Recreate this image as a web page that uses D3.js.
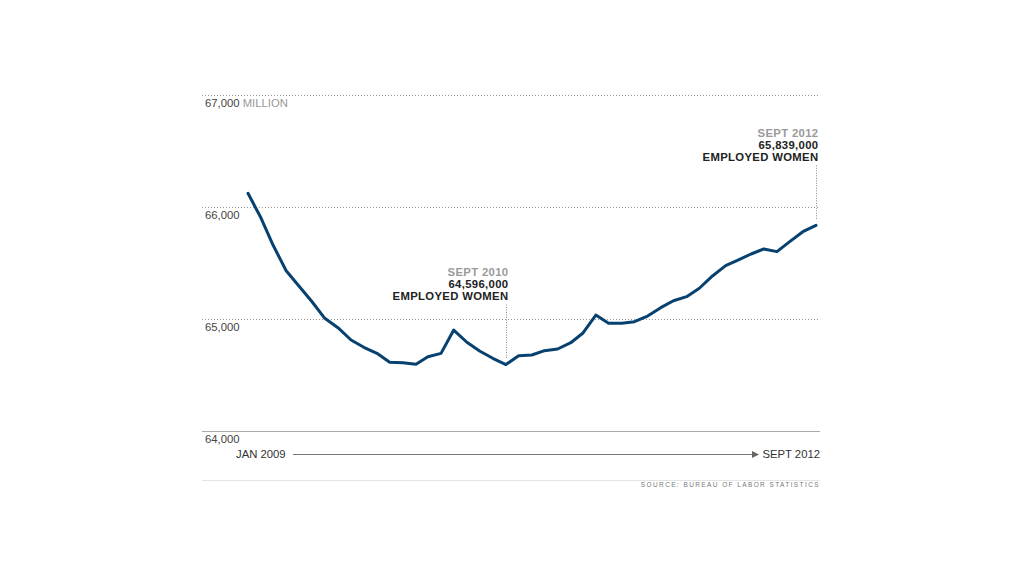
<!DOCTYPE html>
<html><head><meta charset="utf-8">
<script src="https://cdn.jsdelivr.net/npm/d3@7"></script>
<style>
html,body{margin:0;padding:0;background:#fff;}
text{font-family:Arial,"Liberation Sans",Helvetica,sans-serif;}
</style></head>
<body>
<svg id="chart" width="1024" height="576"></svg>
<script>
// Monthly employed women (thousands), Jan 2009 - Sept 2012
const months = d3.range(45).map(i => new Date(2009, i, 1));
const employed = [
  66125, 65902, 65663, 65434, 65297, 65157, 65009, 64925, 64815, 64750,
  64696, 64616, 64612, 64598, 64666, 64696, 64904, 64795, 64717, 64652,
  64596, 64675, 64681, 64720, 64735, 64791, 64875, 65038, 64964, 64964,
  64979, 65029, 65104, 65166, 65202, 65277, 65387, 65479, 65529, 65583,
  65628, 65604, 65693, 65782, 65839
];
const yTicks = [64000, 65000, 66000, 67000];
const yTickLabels = ["64,000", "65,000", "66,000", "67,000"];
const annotations = [
  {index: 20, date: "SEPT 2010", value: "64,596,000", label: "EMPLOYED WOMEN"},
  {index: 44, date: "SEPT 2012", value: "65,839,000", label: "EMPLOYED WOMEN"}
];
const startLabel = "JAN 2009", endLabel = "SEPT 2012";
const sourceText = "SOURCE: BUREAU OF LABOR STATISTICS";

const svg = d3.select("#chart");
const left = 202, right = 820;
const x = d3.scaleTime().domain([months[0], months[44]]).range([248, 816]);
const y = d3.scaleLinear().domain([64000, 67000]).range([431.3, 95.3]);

// gridlines
const grid = svg.append("g");
yTicks.forEach((t, i) => {
  const yy = Math.round(y(t)) + 0.5;
  if (t !== 64000) {
    grid.append("line").attr("x1", left).attr("x2", right).attr("y1", yy).attr("y2", yy)
      .attr("stroke", "#9a9a9a").attr("stroke-width", 1).attr("stroke-dasharray", "1,2");
  } else {
    grid.append("line").attr("x1", left).attr("x2", right).attr("y1", yy).attr("y2", yy)
      .attr("stroke", "#aaa").attr("stroke-width", 1);
  }
  const tx = grid.append("text").attr("x", 205).attr("y", y(t) + 11.3)
    .attr("font-size", 11.3).attr("fill", "#444");
  tx.append("tspan").text(yTickLabels[i]);
  if (t === 67000) tx.append("tspan").attr("fill", "#999").text(" MILLION");
});

// annotation leaders
annotations.forEach(a => {
  const px = Math.round(x(months[a.index])) + 0.5;
  const py = y(employed[a.index]);
  svg.append("line").attr("x1", px).attr("x2", px).attr("y1", py - 60).attr("y2", py - 5)
    .attr("stroke", "#888").attr("stroke-width", 1).attr("stroke-dasharray", "1,1.5");
  const tx = px + 2;
  const top = py - 88.5;
  const g = svg.append("g").attr("font-size", 11.3).attr("font-weight", "bold")
    .attr("letter-spacing", "0.35").attr("text-anchor", "end");
  g.append("text").attr("x", tx).attr("y", top).attr("fill", "#9a9a9a").text(a.date);
  g.append("text").attr("x", tx).attr("y", top + 12.2).attr("fill", "#222").text(a.value);
  g.append("text").attr("x", tx).attr("y", top + 24.4).attr("fill", "#222").text(a.label);
});

// line
const line = d3.line().x((d, i) => x(months[i])).y(d => y(d));
svg.append("path").datum(employed).attr("d", line)
  .attr("fill", "none").attr("stroke", "#07416f").attr("stroke-width", 3)
  .attr("stroke-linejoin", "round").attr("stroke-linecap", "round");

// bottom time arrow
svg.append("text").attr("x", 236).attr("y", 458).attr("font-size", 11.3).attr("fill", "#333").text(startLabel);
svg.append("line").attr("x1", 293).attr("x2", 753).attr("y1", 454.5).attr("y2", 454.5)
  .attr("stroke", "#777").attr("stroke-width", 1);
svg.append("path").attr("d", "M752,451 L759,454.5 L752,458 Z").attr("fill", "#666");
svg.append("text").attr("x", 820).attr("y", 458).attr("text-anchor", "end")
  .attr("font-size", 11.3).attr("fill", "#333").text(endLabel);

svg.append("line").attr("x1", left).attr("x2", right).attr("y1", 480.5).attr("y2", 480.5)
  .attr("stroke", "#e4e4e4").attr("stroke-width", 1);
svg.append("text").attr("x", 820).attr("y", 487).attr("text-anchor", "end")
  .attr("font-size", 6.5).attr("letter-spacing", "1.4").attr("fill", "#777").text(sourceText);
</script>
</body></html>
